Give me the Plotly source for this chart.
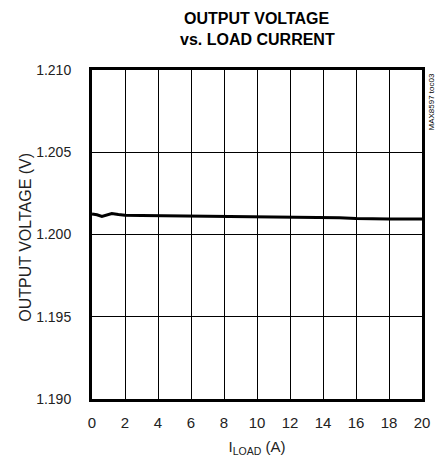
import plotly.graph_objects as go

current_a = [0, 0.3, 0.6, 0.9, 1.2, 1.6, 2, 3, 4, 6, 8, 9, 10, 12, 14, 15, 16, 17, 18, 20]
voltage_v = [1.20125, 1.2012, 1.2011, 1.20118, 1.20128, 1.20122, 1.20117, 1.20116, 1.20115,
             1.20114, 1.20113, 1.2011, 1.20107, 1.20106, 1.20104, 1.20102, 1.20097, 1.20094,
             1.20094, 1.20094]
x_ticks = list(range(0, 21, 2))
y_ticks = [1.190, 1.195, 1.200, 1.205, 1.210]

FONT = "Liberation Sans Narrow, Arial Narrow, Liberation Sans, Arial, sans-serif"

# page has an 8px body margin; figure is sized to fit the remaining viewport
W, H = 435, 453
ML, MR, MT, MB = 84, 21, 62, 62
PH = H - MT - MB

fig = go.Figure()
fig.add_trace(go.Scatter(x=current_a, y=voltage_v, mode="lines",
                         line=dict(color="black", width=3), showlegend=False))

fig.update_layout(
    width=W, height=H,
    margin=dict(l=ML, r=MR, t=MT, b=MB, autoexpand=False),
    paper_bgcolor="white", plot_bgcolor="white",
    font=dict(family=FONT, size=15, color="#222"),
    xaxis=dict(range=[0, 20], tickvals=x_ticks, showgrid=True, gridcolor="black", gridwidth=1,
               showline=True, linecolor="black", linewidth=3, mirror=True, zeroline=False,
               ticks="", ticklabelstandoff=8,
               title=dict(text="I<sub>LOAD</sub> (A)", standoff=12, font=dict(size=15))),
    yaxis=dict(range=[1.190, 1.210], tickvals=y_ticks, tickformat=".3f", showgrid=True,
               gridcolor="black", gridwidth=1, showline=True, linecolor="black", linewidth=3,
               mirror=True, zeroline=False, ticks="", ticklabelstandoff=15,
               tickfont=dict(size=14)),
)

fig.add_annotation(text="OUTPUT VOLTAGE (V)", x=0, y=0.49, xref="paper", yref="paper",
                   xanchor="center", yanchor="middle", xshift=-66, showarrow=False,
                   textangle=-90, font=dict(family=FONT, size=16, color="#222"))

for txt, yc in [("<b>OUTPUT VOLTAGE</b>", 10), ("<b>vs. LOAD CURRENT</b>", 32)]:
    fig.add_annotation(text=txt, x=0.5, y=1 + (MT - yc) / PH, xref="paper", yref="paper",
                       xanchor="center", yanchor="middle", showarrow=False,
                       font=dict(family=FONT, size=16, color="black"))

fig.add_annotation(text="MAX8597 toc03", x=1.0, y=1.0, xref="paper", yref="paper",
                   xanchor="center", yanchor="top", xshift=9, yshift=-2, showarrow=False,
                   textangle=-90, font=dict(family=FONT, size=8, color="black"))

fig.write_html("out.html")
